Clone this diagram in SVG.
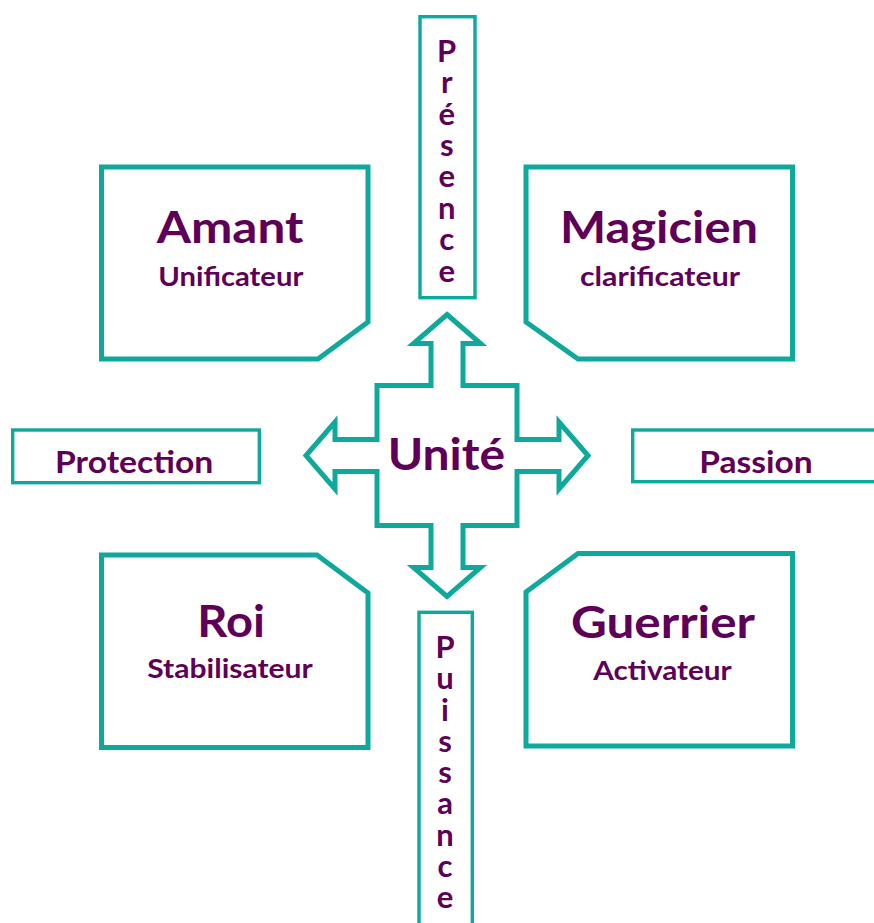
<svg xmlns="http://www.w3.org/2000/svg" width="874" height="923" viewBox="0 0 874 923">
<style>
.big{fill:#fff;stroke:#0ea99b;stroke-width:5;stroke-linejoin:miter}
.small{fill:#fff;stroke:#0ea99b;stroke-width:3.4}
text{font-family:Lato,"Open Sans","Liberation Sans",sans-serif;font-weight:bold;fill:#5e0058}
.t{font-size:44px}
.s{font-size:27px}
.m{font-size:31px}
.v{font-size:31px;text-anchor:middle}
</style>
<rect width="874" height="923" fill="#fff"/>
<g id="connectors">
<polygon class="big" points="447,314.5 480.5,343.5 463,343.5 463,385.5 517,385.5 517,439.5 559,439.5 559,422 588,455.5 559,489 559,471.5 517,471.5 517,525.5 463,525.5 463,567.5 480.5,567.5 447,596.5 413.5,567.5 431,567.5 431,525.5 377,525.5 377,471.5 335,471.5 335,489 306,455.5 335,422 335,439.5 377,439.5 377,385.5 431,385.5 431,343.5 413.5,343.5"/>
</g>
<g id="unite">
<text class="t" x="387.7" y="470" textLength="117.3" lengthAdjust="spacingAndGlyphs">Unité</text>
</g>
<g id="amant">
<polygon class="big" points="101.5,167 368,167 368,322 318,359 101.5,359"/>
<text class="t" x="156.7" y="243.3" textLength="146.6" lengthAdjust="spacingAndGlyphs">Amant</text>
<text class="s" x="158.3" y="286" textLength="145" lengthAdjust="spacingAndGlyphs">Unificateur</text>
</g>
<g id="magicien">
<polygon class="big" points="526,167 792.5,167 792.5,359 578,359 526,322"/>
<text class="t" x="560" y="243.3" textLength="198" lengthAdjust="spacingAndGlyphs">Magicien</text>
<text class="s" x="580" y="286" textLength="160" lengthAdjust="spacingAndGlyphs">clarificateur</text>
</g>
<g id="roi">
<polygon class="big" points="101.5,555 317,555 368,593 368,747.5 101.5,747.5"/>
<text class="t" x="197.3" y="636.7" textLength="67.7" lengthAdjust="spacingAndGlyphs">Roi</text>
<text class="s" x="147.3" y="678.3" textLength="165.4" lengthAdjust="spacingAndGlyphs">Stabilisateur</text>
</g>
<g id="guerrier">
<polygon class="big" points="578,553.5 792.5,553.5 792.5,746 526,746 526,592"/>
<text class="t" x="571" y="638.3" textLength="184" lengthAdjust="spacingAndGlyphs">Guerrier</text>
<text class="s" x="593.3" y="680" textLength="138.4" lengthAdjust="spacingAndGlyphs">Activateur</text>
</g>
<g id="protection">
<rect class="small" x="12.7" y="430" width="246.6" height="52.7"/>
<text class="m" x="55" y="472.7" textLength="158.3" lengthAdjust="spacingAndGlyphs">Protection</text>
</g>
<g id="passion">
<rect class="small" x="632.7" y="430" width="250" height="51.7"/>
<text class="m" x="699.3" y="472.7" textLength="113.4" lengthAdjust="spacingAndGlyphs">Passion</text>
</g>
<g id="presence">
<rect class="small" x="420" y="16.7" width="55" height="281"/>
<text class="v" x="446.7 446.7 446.7 446.7 446.7 446.7 446.7 446.7" y="61.7 93.1 124.5 155.9 187.3 218.7 250.1 281.5">Présence</text>
</g>
<g id="puissance">
<rect class="small" x="419" y="612.3" width="53.3" height="330"/>
<text class="v" x="445 445 445 445 445 445 445 445 445" y="658 689.25 720.5 751.75 783 814.25 845.5 876.75 908">Puissance</text>
</g>
</svg>
